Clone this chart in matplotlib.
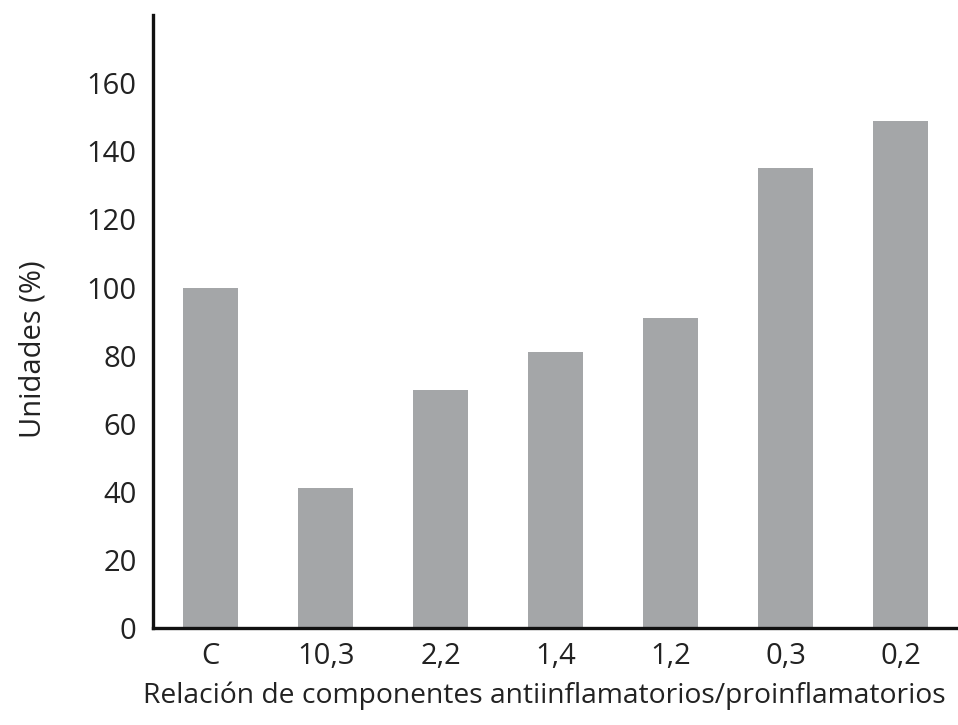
import matplotlib
matplotlib.use("Agg")
import matplotlib.pyplot as plt

categorias = ["C", "10,3", "2,2", "1,4", "1,2", "0,3", "0,2"]
unidades = [100, 41, 70, 81, 91, 135, 149]
yticks = [0, 20, 40, 60, 80, 100, 120, 140, 160]

plt.rcParams["font.family"] = ["Open Sans", "DejaVu Sans"]

fig = plt.figure(figsize=(9.58, 7.25), dpi=100, facecolor="white")
ax = fig.add_axes((0.16, 0.134, 0.84, 0.845))

x = range(len(categorias))
ax.bar(x, unidades, width=0.48, color="#a4a6a8", edgecolor="none")

ax.set_xlim(-0.5, 6.5)
ax.set_ylim(0, 180)
ax.set_yticks(yticks)
ax.set_xticks(list(x))
ax.set_xticklabels(categorias)
ax.tick_params(length=0, labelsize=21, colors="#222222", pad=10)
ax.tick_params(axis="y", pad=12)

for s in ("top", "right"):
    ax.spines[s].set_visible(False)
for s in ("left", "bottom"):
    ax.spines[s].set_linewidth(2.4)
    ax.spines[s].set_color("#111111")

ax.set_ylabel("Unidades (%)", fontsize=21, color="#222222")
ax.yaxis.set_label_coords(-0.132, 0.455)
ax.set_xlabel("Relación de componentes antiinflamatorios/proinflamatorios",
              fontsize=20.3, color="#222222")
ax.xaxis.set_label_coords(0.486, -0.088)

fig.savefig("out.png", dpi=100, facecolor="white")
